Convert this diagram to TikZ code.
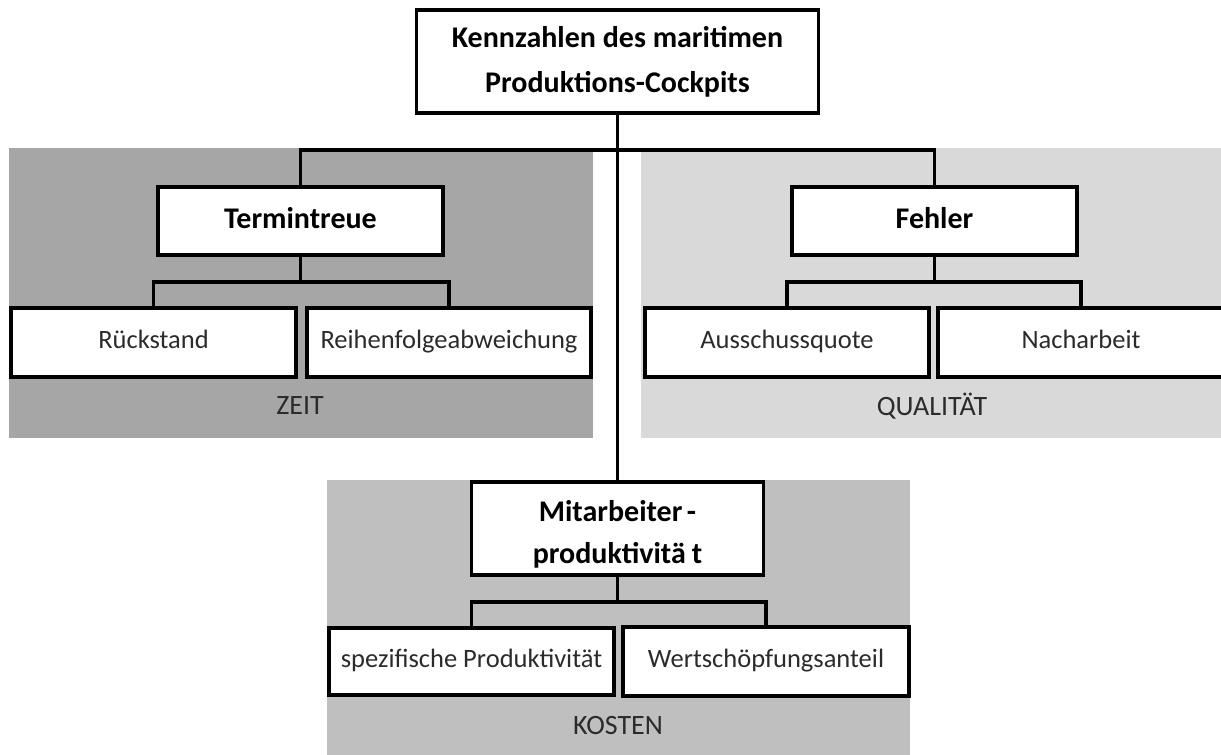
\documentclass[tikz,border=0pt]{standalone}
\usepackage{fontspec}
\setmainfont{Carlito}
\definecolor{zeitfill}{HTML}{A6A6A6}
\definecolor{qualfill}{HTML}{D9D9D9}
\definecolor{kostfill}{HTML}{BFBFBF}
\definecolor{softblack}{HTML}{2B2B2B}
\begin{document}
\begin{tikzpicture}[x=1pt, y=-1pt,
  box/.style={draw=black, line width=3.2pt, fill=white, inner sep=0pt,
              align=center, anchor=center},
  headbox/.style={box, font=\fontsize{30}{45}\selectfont\bfseries},
  singlehead/.style={headbox, text height=20pt, text depth=6pt},
  leafbox/.style={box, font=\fontsize{26.5}{30}\selectfont, text=softblack,
                  text height=19pt, text depth=8pt},
  link/.style={draw=black, line width=3.2pt},
  areaname/.style={font=\fontsize{28}{30}\selectfont, text=softblack, inner sep=0pt}
]
\useasboundingbox (0,0) rectangle (1221,755);
\fill[white] (0,0) rectangle (1221,755);

% grey areas of the three groups
\fill[zeitfill] (9,148) rectangle (593,438);
\fill[qualfill] (641,148) rectangle (1221,438);
\fill[kostfill] (327,480) rectangle (910,755);

% boxes
\node[headbox, minimum width=402pt, minimum height=103pt] (top) at (617.5,61.5)
  {Kennzahlen des maritimen\\Produktions-Cockpits};
\node[singlehead, minimum width=285pt, minimum height=68pt] (term) at (300.5,221) {Termintreue};
\node[singlehead, minimum width=285pt, minimum height=68pt] (fehl) at (934.5,221) {Fehler};
\node[box, minimum width=292pt, minimum height=93pt] (mit) at (617.5,528.5) {};
\node[font=\fontsize{30}{42}\selectfont\bfseries, align=center, inner sep=0pt] (mittext) at (617.5,534)
  {Mitarbeiter\hspace{0.15em}-\\produktivitä\hspace{0.2em}t};

\node[leafbox, minimum width=285pt, minimum height=69pt] (rueck) at (153.5,342.5) {Rückstand};
\node[leafbox, minimum width=284pt, minimum height=69pt] (reih) at (449,342.5) {Reihenfolgeabweichung};
\node[leafbox, minimum width=284pt, minimum height=69pt] (aus) at (787,342.5) {Ausschussquote};
\node[leafbox, minimum width=286pt, minimum height=69pt] (nach) at (1081,342.5) {Nacharbeit};
\node[leafbox, minimum width=285pt, minimum height=67pt] (spez) at (471.5,661.5) {spezifische Produktivität};
\node[leafbox, minimum width=286pt, minimum height=69pt] (wert) at (766,661.5) {Wertschöpfungsanteil};

% group names
\node[areaname] (zeit) at (300,406) {ZEIT};
\node[areaname] (qual) at (932,406) {QUALITÄT};
\node[areaname] (kost) at (618,726) {KOSTEN};

% junction points of the connector lines
\coordinate (bus) at (617.5,150);
\coordinate (termbus) at (300.5,282);
\coordinate (fehlbus) at (934.5,282);
\coordinate (mitbus) at (617.5,602);

% connectors
\draw[link] (top.south) -- (mit.north);
\draw[link] (term.north) |- (bus) -| (fehl.north);
\draw[link] (term.south) -- (termbus);
\draw[link] (rueck.north) |- (termbus) -| (reih.north);
\draw[link] (fehl.south) -- (fehlbus);
\draw[link] (aus.north) |- (fehlbus) -| (nach.north);
\draw[link] (mit.south) -- (mitbus);
\draw[link] (spez.north) |- (mitbus) -| (wert.north);
\end{tikzpicture}
\end{document}
